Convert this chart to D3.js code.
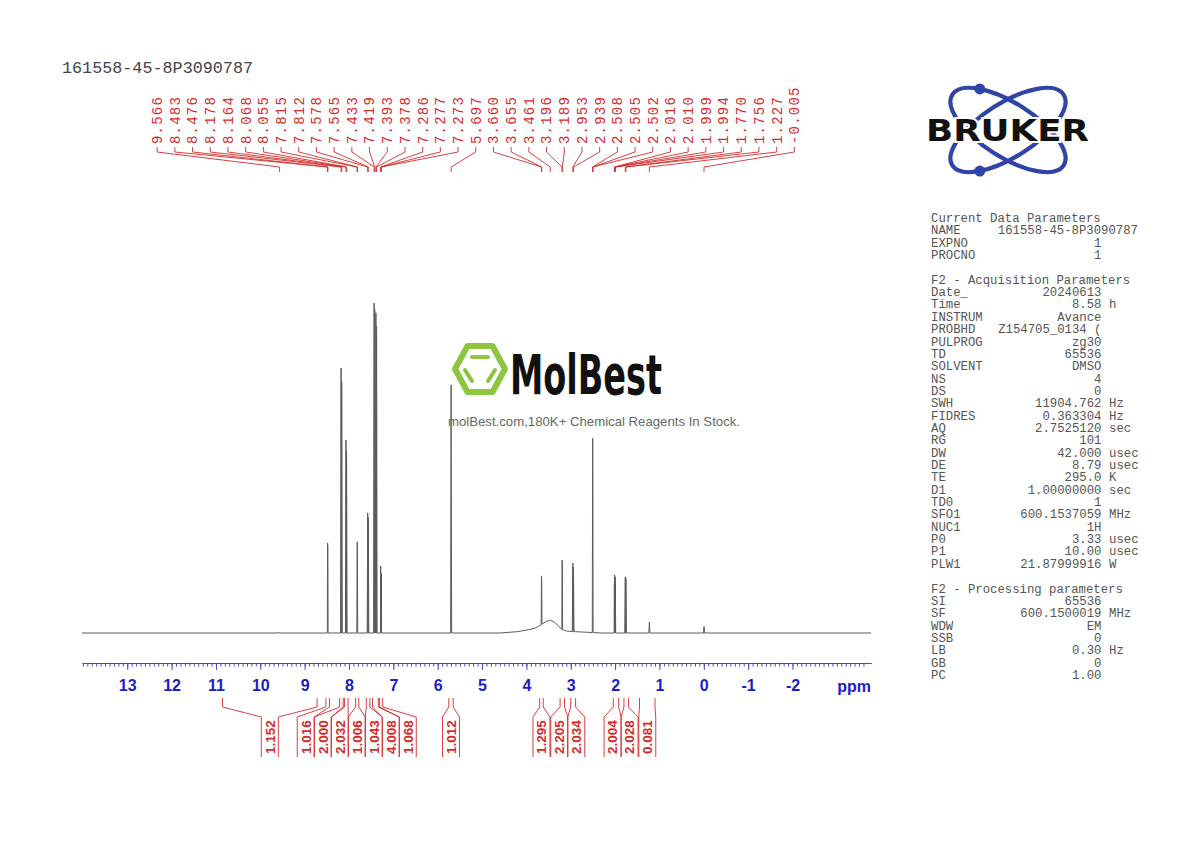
<!DOCTYPE html>
<html>
<head>
<meta charset="utf-8">
<script src="https://cdn.jsdelivr.net/npm/d3@7"></script>
<style>
  body { margin: 0; background: #fff; }
  svg { display: block; }
  .mono { font-family: "Liberation Mono", "Courier New", monospace; }
</style>
</head>
<body>
<div id="chart"></div>
<script>
// DATA
var sampleName = "161558-45-8P3090787";
var ppmRange = [14.02, -3.77];
var majorTicks = [13, 12, 11, 10, 9, 8, 7, 6, 5, 4, 3, 2, 1, 0, -1, -2];

// peak list: shift (ppm) and height (0..100, tallest line = 100)
var peakPpm = [9.566, 8.483, 8.476, 8.178, 8.164, 8.068, 8.055, 7.815, 7.812, 7.578, 7.565,
  7.433, 7.419, 7.393, 7.378, 7.286, 7.277, 7.273, 5.697, 3.660, 3.655, 3.461, 3.196, 3.189,
  2.953, 2.939, 2.508, 2.505, 2.502, 2.016, 2.010, 1.999, 1.994, 1.770, 1.756, 1.227, -0.005];
var peakHeight = [0.2, 27.3, 26, 80.3, 76, 58.5, 55, 27.6, 27, 36.4, 35,
  100, 98, 97, 93, 20.3, 18, 18, 75.2, 17.3, 16, 3.9, 22.1, 21,
  21.2, 20, 50, 59, 50, 15, 17.6, 17, 15, 17, 16.5, 3.3, 2.0];

// broad water hump under the 3-4 ppm region
var baselinePpm = [14.02, 4.6, 4.2, 3.95, 3.8, 3.68, 3.55, 3.46, 3.36, 3.27, 3.2, 3.1, 2.9, 2.6, 2.3, -3.77];
var baselineVal = [0, 0, 0.4, 1.0, 1.5, 2.4, 3.5, 3.9, 3.2, 2.0, 1.1, 0.6, 0.4, 0.2, 0, 0];

// integrals
var integralFrom = [10.85, 8.52, 8.21, 8.10, 7.85, 7.61, 7.47, 7.31, 5.75, 3.70, 3.24, 3.00, 2.04, 1.80, 1.45];
var integralTo = [8.72, 8.44, 8.13, 8.02, 7.78, 7.53, 7.34, 7.24, 5.65, 3.62, 3.14, 2.89, 1.92, 1.70, 1.10];
var integralValue = ["1.152", "1.016", "2.000", "2.032", "1.006", "1.043", "4.008", "1.068",
  "1.012", "1.295", "2.205", "2.034", "2.004", "2.028", "0.081"];

// parameter table
var paramNames = ["Current Data Parameters", "NAME", "EXPNO", "PROCNO", "",
  "F2 - Acquisition Parameters", "Date_", "Time", "INSTRUM", "PROBHD", "PULPROG", "TD", "SOLVENT",
  "NS", "DS", "SWH", "FIDRES", "AQ", "RG", "DW", "DE", "TE", "D1", "TD0", "SFO1", "NUC1", "P0", "P1", "PLW1", "",
  "F2 - Processing parameters", "SI", "SF", "WDW", "SSB", "LB", "GB", "PC"];
var paramValues = ["", "", "1", "1", "",
  "", "20240613", "8.58", "Avance", "Z154705_0134 (", "zg30", "65536", "DMSO",
  "4", "0", "11904.762", "0.363304", "2.7525120", "101", "42.000", "8.79", "295.0", "1.00000000", "1",
  "600.1537059", "1H", "3.33", "10.00", "21.87999916", "",
  "", "65536", "600.1500019", "EM", "0", "0.30", "0", "1.00"];
var paramUnits = ["", "", "", "", "",
  "", "", "h", "", "", "", "", "",
  "", "", "Hz", "Hz", "sec", "", "usec", "usec", "K", "sec", "",
  "MHz", "", "usec", "usec", "W", "",
  "", "", "MHz", "", "", "Hz", "", ""];

// LAYOUT
var W = 1190, H = 842;
var plotLeft = 82, plotRight = 871, baseY = 633, topY = 303, axisY = 663;
var red = "#d42a2a", blue = "#1c1cc4";

var svg = d3.select("#chart").append("svg")
  .attr("width", W).attr("height", H);

var x = d3.scaleLinear().domain(ppmRange).range([plotLeft, plotRight]);
var y = d3.scaleLinear().domain([0, 100]).range([baseY, topY]);
var base = d3.scaleLinear().domain(baselinePpm).range(baselineVal);

// spread labels that would overlap: merge into evenly spaced clusters
function spread(xs, gap) {
  var cl = xs.map(function(v) { return {sum: v, n: 1}; });
  var merged = true;
  while (merged) {
    merged = false;
    for (var i = 0; i < cl.length - 1; i++) {
      var a = cl[i], b = cl[i + 1];
      var aEnd = a.sum / a.n + (a.n - 1) * gap / 2;
      var bStart = b.sum / b.n - (b.n - 1) * gap / 2;
      if (bStart - aEnd < gap) {
        cl.splice(i, 2, {sum: a.sum + b.sum, n: a.n + b.n});
        merged = true;
        break;
      }
    }
  }
  var out = [];
  cl.forEach(function(c) {
    var s = c.sum / c.n - (c.n - 1) * gap / 2;
    for (var k = 0; k < c.n; k++) out.push(s + k * gap);
  });
  return out;
}

// title
svg.append("text").attr("class", "mono")
  .attr("x", 62).attr("y", 73)
  .attr("font-size", 16.5).attr("fill", "#444")
  .attr("textLength", 191).attr("lengthAdjust", "spacingAndGlyphs")
  .text(sampleName);

// SPECTRUM TRACE
var w = 0.012;
var verts = [];
baselinePpm.forEach(function(p, i) { verts.push([p, baselineVal[i]]); });
peakPpm.forEach(function(p, i) {
  verts.push([p + w, base(p + w)]);
  verts.push([p, Math.max(peakHeight[i], base(p))]);
  verts.push([p - w, base(p - w)]);
});
verts.sort(function(a, b) { return b[0] - a[0]; });

svg.append("path")
  .datum(verts)
  .attr("fill", "none")
  .attr("stroke", "#5a5a5a")
  .attr("stroke-width", 1)
  .attr("d", d3.line().x(function(d) { return x(d[0]); }).y(function(d) { return y(d[1]); }));

// PEAK LABELS (top)
var peakX = peakPpm.map(function(p) { return x(p); });
var labX = spread(peakX.slice(), 17.7);
var pk = svg.append("g");
peakPpm.forEach(function(p, i) {
  pk.append("path")
    .attr("fill", "none").attr("stroke", red).attr("stroke-width", 0.9)
    .attr("d", "M" + labX[i] + ",147V152L" + peakX[i] + ",167V172");
  pk.append("text").attr("class", "mono")
    .attr("transform", "translate(" + labX[i] + ",144) rotate(-90)")
    .attr("dy", "0.35em")
    .attr("font-size", 14).attr("letter-spacing", 1.2)
    .attr("fill", red)
    .text(p.toFixed(3));
});

// X AXIS
var axisG = svg.append("g").attr("transform", "translate(0," + axisY + ")");
axisG.call(d3.axisBottom(x).tickValues(d3.range(14, -3.7, -0.1)).tickSize(3.5).tickSizeOuter(0).tickFormat(""));
var axMajor = svg.append("g").attr("transform", "translate(0," + axisY + ")")
  .call(d3.axisBottom(x).tickValues(majorTicks).tickSize(7).tickSizeOuter(0).tickPadding(10)
    .tickFormat(function(d) { return d; }));
[axisG, axMajor].forEach(function(g) {
  g.select(".domain").attr("stroke", "#4646cc");
  g.selectAll(".tick line").attr("stroke", "#4646cc");
});
axMajor.selectAll(".tick text")
  .attr("fill", blue).attr("font-size", 16).attr("font-weight", "bold")
  .attr("font-family", "Liberation Sans, Arial, sans-serif");
svg.append("text")
  .attr("x", plotRight).attr("y", axisY + 28.5)
  .attr("text-anchor", "end")
  .attr("fill", blue).attr("font-size", 16).attr("font-weight", "bold")
  .attr("font-family", "Liberation Sans, Arial, sans-serif")
  .text("ppm");

// INTEGRALS (bottom)
var intCenter = integralFrom.map(function(f, i) { return (x(f) + x(integralTo[i])) / 2; });
var intX = spread(intCenter.slice(), 17);
var ig = svg.append("g");
integralValue.forEach(function(v, i) {
  var xa = x(integralFrom[i]), xb = x(integralTo[i]), lx = intX[i];
  ig.append("path")
    .attr("fill", "none").attr("stroke", red).attr("stroke-width", 0.9)
    .attr("d", "M" + xa + ",698V707L" + (lx - 8.5) + ",717V757" +
               "M" + xb + ",698V707L" + (lx + 8.5) + ",717V757");
  ig.append("text")
    .attr("transform", "translate(" + lx + ",754) rotate(-90)")
    .attr("dy", "0.36em")
    .attr("font-family", "Liberation Sans, Arial, sans-serif")
    .attr("font-weight", "bold").attr("font-size", 13.5)
    .attr("fill", red)
    .text(v);
});

// PARAMETER TABLE
var pt = svg.append("g").attr("class", "mono").attr("font-size", 12.3).attr("fill", "#555");
paramNames.forEach(function(n, i) {
  var yy = 222 + i * 12.35;
  if (n) pt.append("text").attr("x", 931).attr("y", yy).text(n);
  if (n === "NAME") {
    pt.append("text").attr("x", 1138).attr("y", yy).attr("text-anchor", "end").text(sampleName);
  } else if (paramValues[i]) {
    pt.append("text").attr("x", 1101.5).attr("y", yy).attr("text-anchor", "end").text(paramValues[i]);
  }
  if (paramUnits[i]) pt.append("text").attr("x", 1109).attr("y", yy).text(paramUnits[i]);
});

// BRUKER LOGO
var logo = svg.append("g").attr("transform", "translate(1008,130)");
var lb = "#3043a6", rx = 66, ry = 27;
[32.5, -32.5].forEach(function(a, k) {
  logo.append("ellipse").attr("rx", rx).attr("ry", ry)
    .attr("transform", "rotate(" + a + ")")
    .attr("fill", "none").attr("stroke", lb).attr("stroke-width", 4.2);
  var t = (k === 0 ? -134 : 134) * Math.PI / 180, ar = a * Math.PI / 180;
  var ex = rx * Math.cos(t), ey = ry * Math.sin(t);
  logo.append("circle")
    .attr("cx", ex * Math.cos(ar) - ey * Math.sin(ar))
    .attr("cy", ex * Math.sin(ar) + ey * Math.cos(ar))
    .attr("r", 5.5).attr("fill", lb);
});
logo.append("text")
  .attr("x", -82).attr("y", 11)
  .attr("font-family", "DejaVu Sans, Arial, sans-serif")
  .attr("font-weight", "bold").attr("font-size", 30)
  .attr("textLength", 163).attr("lengthAdjust", "spacingAndGlyphs")
  .attr("fill", "#111").attr("stroke", "#fff").attr("stroke-width", 4)
  .attr("paint-order", "stroke")
  .text("BRUKER");

// MOLBEST WATERMARK
var mb = svg.append("g");
var hx = 480, hy = 369, hw = 25, hh = 23;
var hex = [[hx - hw, hy], [hx - hw / 2, hy - hh], [hx + hw / 2, hy - hh], [hx + hw, hy], [hx + hw / 2, hy + hh], [hx - hw / 2, hy + hh]];
mb.append("polygon").attr("points", hex.map(function(p) { return p.join(","); }).join(" "))
  .attr("fill", "none").attr("stroke", "#8cc63f").attr("stroke-width", 6).attr("stroke-linejoin", "round");
[[[hx - 8, hy - 12], [hx + 8, hy - 12]],
 [[hx - 15, hy + 1], [hx - 8, hy + 12]],
 [[hx + 15, hy + 1], [hx + 8, hy + 12]]].forEach(function(s) {
  mb.append("line").attr("x1", s[0][0]).attr("y1", s[0][1]).attr("x2", s[1][0]).attr("y2", s[1][1])
    .attr("stroke", "#8cc63f").attr("stroke-width", 4).attr("stroke-linecap", "round");
});
mb.append("text")
  .attr("x", 510).attr("y", 394)
  .attr("font-family", "DejaVu Sans Condensed, Liberation Sans Narrow, Liberation Sans, sans-serif")
  .attr("font-weight", "bold")
  .attr("font-size", 56)
  .attr("textLength", 152).attr("lengthAdjust", "spacingAndGlyphs")
  .attr("fill", "#111")
  .text("MolBest");
mb.append("text")
  .attr("x", 448).attr("y", 426)
  .attr("font-family", "Liberation Sans, Arial, sans-serif")
  .attr("font-size", 13.5)
  .attr("textLength", 292).attr("lengthAdjust", "spacingAndGlyphs")
  .attr("fill", "#666")
  .text("molBest.com,180K+ Chemical Reagents In Stock.");
</script>
</body>
</html>
